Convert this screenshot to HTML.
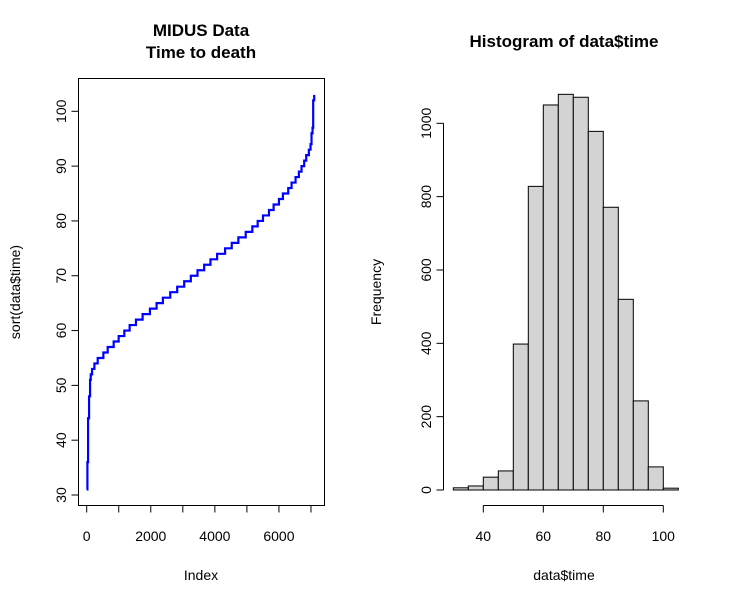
<!DOCTYPE html>
<html><head><meta charset="utf-8"><style>body{margin:0;background:#fff}svg{display:block;font-family:"Liberation Sans",Arial,sans-serif}</style></head>
<body>
<svg id="c" width="729" height="604" xmlns="http://www.w3.org/2000/svg"></svg>
<script>
const stepValues=[31,36,44,48,51,52,53,54,55,56,57,58,59,60,61,62,63,64,65,66,67,68,69,70,71,72,73,74,75,76,77,78,79,80,81,82,83,84,85,86,87,88,89,90,91,92,93,94,96,97,102,103];
const stepStarts=[0,21,42,73,104,125,166,239,342,519,654,841,997,1173,1339,1536,1744,1972,2180,2377,2606,2824,3042,3249,3457,3665,3862,4069,4318,4526,4733,4962,5169,5335,5501,5688,5833,5999,6123,6289,6393,6518,6621,6704,6787,6850,6933,6985,7016,7047,7068,7099];
const nTotal=7100;
const leftXTicks=[0,1000,2000,3000,4000,5000,6000,7000];
const leftXLabels=["0","2000","4000","6000"];
const leftYTicks=[30,40,50,60,70,80,90,100];
const binStarts=[30,35,40,45,50,55,60,65,70,75,80,85,90,95,100];
const binCounts=[6,11,35,52,398,828,1050,1079,1071,978,771,520,243,63,5];
const binWidth=5;
const histXTicks=[40,60,80,100];
const histYTicks=[0,200,400,600,800,1000];

const svg=document.getElementById('c');const NS='http://www.w3.org/2000/svg';
function el(t,a,txt){const e=document.createElementNS(NS,t);for(const k in a)e.setAttribute(k,a[k]);if(txt!==undefined)e.textContent=txt;svg.appendChild(e);return e;}
const lx=i=>86.7+i*0.03204, ly=v=>495-(v-30)*(495-111.3)/70;
let e;
e=el('rect',{x:78.5,y:78.5,width:246,height:427,fill:'none',stroke:'#000','stroke-width':1});

e=el('line',{x1:lx(0),x2:lx(7000),y1:505.5,y2:505.5,stroke:'#000'});

leftXTicks.forEach(t=>{e=el('line',{x1:lx(t),x2:lx(t),y1:505.5,y2:512.5,stroke:'#000'});});
leftXLabels.forEach(s=>{e=el('text',{x:lx(+s),y:541,'font-size':14,'text-anchor':'middle'},s);});
leftYTicks.forEach(t=>{e=el('line',{x1:71.5,x2:78.5,y1:ly(t),y2:ly(t),stroke:'#000'});
e=el('text',{x:0,y:0,'font-size':14,'text-anchor':'middle',transform:`translate(66,${ly(t)}) rotate(-90)`},String(t));});
let d='';
for(let k=0;k<stepValues.length;k++){const x0=lx(stepStarts[k]+1),x1=lx(k+1<stepStarts.length?stepStarts[k+1]+1:nTotal);const y=ly(stepValues[k]);d+=(k?'L':'M')+x0+' '+y+'L'+x1+' '+y;}
e=el('path',{d:d,fill:'none',stroke:'#0000ff','stroke-width':2.2});

e=el('text',{x:201,y:36,'font-size':17,'font-weight':'bold','text-anchor':'middle'},'MIDUS Data');
e=el('text',{x:201,y:58,'font-size':17,'font-weight':'bold','text-anchor':'middle'},'Time to death');
e=el('text',{x:201,y:580,'font-size':14,'text-anchor':'middle'},'Index');
e=el('text',{x:0,y:0,'font-size':14,'text-anchor':'middle',transform:'translate(20,292) rotate(-90)'},'sort(data$time)');
const hx=v=>483.3+(v-40)*3.0, hy=c=>490-c*0.3667;
binStarts.forEach((b,i)=>{e=el('rect',{x:hx(b),y:hy(binCounts[i]),width:binWidth*3.0,height:hy(0)-hy(binCounts[i]),fill:'#d3d3d3',stroke:'#000','stroke-width':1});});
e=el('line',{x1:hx(40),x2:hx(100),y1:505.5,y2:505.5,stroke:'#000'});
histXTicks.forEach(t=>{e=el('line',{x1:hx(t),x2:hx(t),y1:505.5,y2:512.5,stroke:'#000'});
e=el('text',{x:hx(t),y:541,'font-size':14,'text-anchor':'middle'},String(t));});
e=el('line',{x1:443.5,x2:443.5,y1:hy(0),y2:hy(1000),stroke:'#000'});
histYTicks.forEach(t=>{e=el('line',{x1:436.5,x2:443.5,y1:hy(t),y2:hy(t),stroke:'#000'});
e=el('text',{x:0,y:0,'font-size':14,'text-anchor':'middle',transform:`translate(431,${hy(t)}) rotate(-90)`},String(t));});
e=el('text',{x:564,y:47,'font-size':17,'font-weight':'bold','text-anchor':'middle'},'Histogram of data$time');
e=el('text',{x:564,y:580,'font-size':14,'text-anchor':'middle'},'data$time');
e=el('text',{x:0,y:0,'font-size':14,'text-anchor':'middle',transform:'translate(381,292) rotate(-90)'},'Frequency');
</script>
</body></html>
